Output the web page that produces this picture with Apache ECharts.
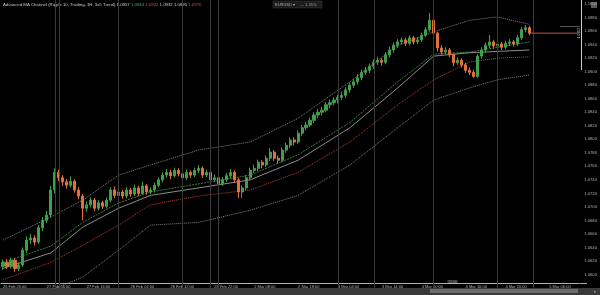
<!DOCTYPE html>
<html><head><meta charset="utf-8">
<script src="https://cdn.jsdelivr.net/npm/echarts/dist/echarts.min.js"></script>
<style>html,body{margin:0;padding:0;background:#000;}#c{width:600px;height:295px;}</style>
</head><body><div id="c"></div>
<script>
// [open, close, low, high]
const candles = [
[1.0612,1.0618,1.0607,1.0622],[1.0618,1.0612,1.0608,1.0623],[1.0612,1.0621,1.0609,1.0625],[1.0621,1.0609,1.0604,1.0624],
[1.0609,1.0614,1.0605,1.0618],[1.0614,1.0636,1.0611,1.0640],[1.0636,1.0651,1.0632,1.0656],[1.0651,1.0654,1.0645,1.0660],
[1.0654,1.0648,1.0643,1.0658],[1.0648,1.0669,1.0645,1.0673],[1.0669,1.0680,1.0664,1.0685],[1.0680,1.0688,1.0676,1.0694],
[1.0688,1.0725,1.0684,1.0731],[1.0725,1.0751,1.0720,1.0757],[1.0751,1.0743,1.0738,1.0755],[1.0743,1.0737,1.0731,1.0747],
[1.0737,1.0732,1.0727,1.0741],[1.0732,1.0738,1.0729,1.0745],[1.0738,1.0725,1.0721,1.0741],[1.0725,1.0716,1.0711,1.0729],
[1.0716,1.0698,1.0680,1.0719],[1.0698,1.0703,1.0693,1.0708],[1.0703,1.0710,1.0699,1.0714],[1.0710,1.0698,1.0694,1.0713],
[1.0698,1.0706,1.0695,1.0710],[1.0706,1.0701,1.0697,1.0709],[1.0701,1.0710,1.0698,1.0714],[1.0710,1.0725,1.0707,1.0729],
[1.0725,1.0717,1.0713,1.0730],[1.0717,1.0722,1.0714,1.0726],[1.0722,1.0716,1.0712,1.0725],[1.0716,1.0725,1.0713,1.0729],
[1.0725,1.0719,1.0715,1.0728],[1.0719,1.0728,1.0716,1.0733],[1.0728,1.0720,1.0716,1.0731],[1.0720,1.0731,1.0718,1.0737],
[1.0731,1.0722,1.0718,1.0734],[1.0722,1.0725,1.0719,1.0729],[1.0725,1.0732,1.0721,1.0736],[1.0732,1.0740,1.0729,1.0744],
[1.0740,1.0747,1.0736,1.0751],[1.0747,1.0751,1.0743,1.0756],[1.0751,1.0746,1.0741,1.0755],[1.0746,1.0754,1.0743,1.0758],
[1.0754,1.0749,1.0745,1.0757],[1.0749,1.0743,1.0739,1.0752],[1.0743,1.0751,1.0740,1.0755],[1.0751,1.0747,1.0743,1.0754],
[1.0747,1.0754,1.0744,1.0758],[1.0754,1.0757,1.0750,1.0762],[1.0757,1.0747,1.0743,1.0760],[1.0747,1.0751,1.0744,1.0755],
[1.0751,1.0740,1.0736,1.0754],[1.0740,1.0743,1.0737,1.0748],[1.0743,1.0734,1.0730,1.0746],[1.0734,1.0740,1.0731,1.0744],
[1.0740,1.0746,1.0737,1.0750],[1.0746,1.0751,1.0742,1.0756],[1.0751,1.0740,1.0736,1.0754],[1.0740,1.0722,1.0713,1.0743],
[1.0722,1.0728,1.0713,1.0732],[1.0728,1.0743,1.0725,1.0747],[1.0743,1.0754,1.0740,1.0758],[1.0754,1.0757,1.0750,1.0762],
[1.0757,1.0766,1.0753,1.0770],[1.0766,1.0762,1.0757,1.0769],[1.0762,1.0772,1.0759,1.0776],[1.0772,1.0781,1.0768,1.0787],
[1.0781,1.0772,1.0768,1.0784],[1.0772,1.0769,1.0764,1.0776],[1.0769,1.0784,1.0766,1.0788],[1.0784,1.0791,1.0780,1.0795],
[1.0791,1.0799,1.0787,1.0803],[1.0799,1.0796,1.0791,1.0803],[1.0796,1.0809,1.0793,1.0813],[1.0809,1.0817,1.0805,1.0821],
[1.0817,1.0821,1.0813,1.0826],[1.0821,1.0828,1.0818,1.0832],[1.0828,1.0836,1.0824,1.0840],[1.0836,1.0840,1.0831,1.0845],
[1.0840,1.0843,1.0835,1.0848],[1.0843,1.0851,1.0840,1.0855],[1.0851,1.0854,1.0846,1.0859],[1.0854,1.0858,1.0850,1.0862],
[1.0858,1.0862,1.0853,1.0866],[1.0862,1.0865,1.0858,1.0870],[1.0865,1.0873,1.0861,1.0877],[1.0873,1.0880,1.0869,1.0884],
[1.0880,1.0885,1.0876,1.0889],[1.0885,1.0891,1.0881,1.0896],[1.0891,1.0899,1.0887,1.0903],[1.0899,1.0902,1.0895,1.0907],
[1.0902,1.0908,1.0898,1.0912],[1.0908,1.0914,1.0904,1.0918],[1.0914,1.0917,1.0910,1.0922],[1.0917,1.0914,1.0909,1.0920],
[1.0914,1.0925,1.0911,1.0929],[1.0925,1.0932,1.0921,1.0937],[1.0932,1.0939,1.0928,1.0943],[1.0939,1.0944,1.0935,1.0948],
[1.0944,1.0947,1.0940,1.0951],[1.0947,1.0942,1.0938,1.0950],[1.0942,1.0950,1.0939,1.0954],[1.0950,1.0944,1.0940,1.0953],
[1.0944,1.0947,1.0941,1.0951],[1.0947,1.0954,1.0944,1.0958],[1.0954,1.0962,1.0951,1.0966],[1.0962,1.0976,1.0959,1.0987],
[1.0976,1.0957,1.0953,1.0979],[1.0957,1.0935,1.0930,1.0959],[1.0935,1.0929,1.0925,1.0939],[1.0929,1.0932,1.0926,1.0936],
[1.0932,1.0925,1.0921,1.0935],[1.0925,1.0913,1.0908,1.0927],[1.0913,1.0917,1.0910,1.0921],[1.0917,1.0910,1.0906,1.0920],
[1.0910,1.0902,1.0898,1.0913],[1.0902,1.0899,1.0895,1.0906],[1.0899,1.0893,1.0891,1.0903],[1.0893,1.0923,1.0891,1.0926],
[1.0923,1.0932,1.0919,1.0936],[1.0932,1.0939,1.0928,1.0943],[1.0939,1.0944,1.0935,1.0954],[1.0944,1.0938,1.0934,1.0947],
[1.0938,1.0941,1.0935,1.0945],[1.0941,1.0936,1.0932,1.0944],[1.0936,1.0942,1.0933,1.0946],[1.0942,1.0944,1.0938,1.0948],
[1.0944,1.0941,1.0937,1.0947],[1.0941,1.0950,1.0938,1.0954],[1.0950,1.0962,1.0947,1.0966],[1.0962,1.0965,1.0958,1.0969],
[1.0965,1.0957,1.0954,1.0968]
];
const categoryCount = 145;
const categories = Array.from({length: categoryCount}, (_, i) => String(i));

// channel lines, read at these candle indices
const lineIdx   = [0, 12, 20, 29, 37, 49, 62, 74, 87, 99, 108, 117, 124, 132];
const upperBand = [1.0651,1.0685,1.0710,1.0747,1.0762,1.0784,1.0796,1.0831,1.0885,1.0939,1.0959,1.0976,1.0981,1.0970];
const greenLine = [1.0618,1.0642,1.0677,1.0706,1.0722,1.0734,1.0747,1.0777,1.0825,1.0885,1.0926,1.0929,1.0936,1.0944];
const whiteLine = [1.0609,1.0632,1.0670,1.0698,1.0717,1.0728,1.0740,1.0769,1.0817,1.0876,1.0923,1.0928,1.0930,1.0932];
const redLine   = [1.0592,1.0618,1.0643,1.0673,1.0703,1.0716,1.0725,1.0751,1.0796,1.0851,1.0888,1.0914,1.0920,1.0922];
const lowerBand = [1.0562,1.0577,1.0596,1.0636,1.0673,1.0677,1.0695,1.0717,1.0762,1.0817,1.0858,1.0876,1.0888,1.0895];

const separatorIdx = [13, 14, 29, 45, 52, 54, 84, 93, 108, 124, 133];
const tickIdx = [0, 11, 21, 32, 42, 53, 63, 74, 84, 95, 105, 116, 126, 137];
const tickLabels = ["26 Feb 20:00","27 Feb 06:00","27 Feb 16:00","28 Feb 02:00","28 Feb 12:00","28 Feb 22:00","2 Mar 08:00",
  "2 Mar 18:00","3 Mar 04:00","3 Mar 14:00","4 Mar 00:00","4 Mar 10:00","4 Mar 20:00","5 Mar 06:00"];
const headerText = "Advanced MA Channel (Ripple 10, Trading, 1H, 3x5 Trend)";
const headerValues = ["1.0957", "1.0944", "1.0922", "1.0932", "1.0895", "1.0970"];
const headerColors = ["#cfcfcf", "#4caf50", "#e0503c", "#cfcfcf", "#cfcfcf", "#e0503c"];

const yMin = 1.0580, yMax = 1.1006, yStep = 0.002;

function pts(vals) { return lineIdx.map((i, k) => [i, vals[k]]); }
function lineSeries(vals, color, type, width, extra) {
  return Object.assign({
    type: 'line', data: pts(vals), symbol: 'none', silent: true, z: 3,
    itemStyle: { color: color },
    lineStyle: { color: color, type: type, width: width }
  }, extra || {});
}

const lastIdx = candles.length - 1;
const lastClose = candles[lastIdx][1];
const sepStyle = { color: '#3a3a3a', type: 'solid', width: 1 };

const chart = echarts.init(document.getElementById('c'), null, { renderer: 'canvas' });
chart.setOption({
  backgroundColor: '#000',
  animation: false,
  grid: { left: 0, right: 20, top: 0, bottom: 7 },
  xAxis: {
    type: 'category', data: categories, boundaryGap: true, offset: -5,
    axisLine: { lineStyle: { color: '#b0b0b0', width: 1 } },
    axisTick: { show: false },
    splitLine: { show: false },
    axisLabel: {
      interval: (idx) => tickIdx.includes(idx),
      formatter: (v, idx) => { const k = tickIdx.indexOf(idx); return k >= 0 ? tickLabels[k] : ''; },
      align: 'left', fontSize: 4, color: '#b5b5b5', margin: 1.5, fontFamily: 'Liberation Sans'
    }
  },
  yAxis: {
    type: 'value', position: 'right', min: yMin, max: yMax, interval: yStep,
    axisLine: { show: false }, axisTick: { show: false }, splitLine: { show: false },
    axisLabel: {
      formatter: (v) => v.toFixed(4), fontSize: 4.2, color: '#b0b0b0', margin: 5,
      showMinLabel: false, showMaxLabel: false, fontFamily: 'Liberation Sans'
    }
  },
  series: [
    {
      type: 'line', data: [], silent: true, z: 1,
      markLine: {
        silent: true, symbol: ['none', 'none'], label: { show: false },
        emphasis: { disabled: true },
        lineStyle: sepStyle,
        data: separatorIdx.map(i => ({ xAxis: i, lineStyle: sepStyle }))
      }
    },
    lineSeries(upperBand, 'rgba(160,160,160,0.8)', 'dotted', 1),
    lineSeries(lowerBand, 'rgba(160,160,160,0.8)', 'dotted', 1),
    lineSeries(redLine, 'rgba(205,70,60,0.9)', 'dotted', 1),
    lineSeries(whiteLine, 'rgba(220,220,220,0.8)', 'solid', 0.8),
    lineSeries(greenLine, 'rgba(90,180,90,0.85)', [2, 1], 0.8),
    {
      type: 'line', silent: true, symbol: 'none', z: 5,
      data: [[lastIdx, lastClose], [categoryCount - 1, lastClose]],
      itemStyle: { color: '#c9503e' },
      lineStyle: { color: '#c9503e', width: 1 }
    },
    {
      type: 'candlestick', data: candles, barWidth: 2.6, z: 4,
      itemStyle: { color: '#3f9f4a', color0: '#e2703c', borderColor: '#3f9f4a', borderColor0: '#e2703c', borderWidth: 1 }
    }
  ]
});

// header rich text
const rich = { t: { fill: '#c8c8c8', fontSize: 4.3, fontFamily: 'Liberation Sans' } };
let txt = '{t|' + headerText + ' }';
headerValues.forEach((v, k) => { rich['v' + k] = { fill: headerColors[k], fontSize: 4.3, fontFamily: 'Liberation Sans' }; txt += '{v' + k + '|' + v + ' }'; });

const priceY = chart.convertToPixel({ yAxisIndex: 0 }, lastClose);

chart.setOption({
  graphic: [
    { type: 'text', left: 3, top: 3, style: { text: txt, rich: rich } },
    { type: 'rect', shape: { x: 273, y: 1, width: 49, height: 7 }, style: { fill: '#1c1c1c', stroke: '#3c3c3c', lineWidth: 0.5 } },
    { type: 'text', x: 275, y: 2.5, style: { text: 'EURUSD ▾', fill: '#b0b0b0', fontSize: 4, fontFamily: 'Liberation Sans' } },
    { type: 'text', x: 300, y: 2.5, style: { text: '— 1.35%', fill: '#9a9a9a', fontSize: 4, fontFamily: 'Liberation Sans' } },
    { type: 'rect', shape: { x: 591, y: 2, width: 6, height: 6 }, style: { fill: '#5a5a5a' } },
    { type: 'line', shape: { x1: 581.5, y1: 0, x2: 581.5, y2: 70 }, style: { stroke: '#cfcfcf', lineWidth: 1 } },
    { type: 'line', shape: { x1: 560, y1: 26.5, x2: 580, y2: 26.5 }, style: { stroke: '#555', lineWidth: 1 } },
    { type: 'text', x: 579, y: priceY, rotation: Math.PI / 2, style: { text: lastClose.toFixed(4), fill: '#d8d8d8', fontSize: 3.5, align: 'center', verticalAlign: 'middle', fontFamily: 'Liberation Sans' } },
    { type: 'line', shape: { x1: 580, y1: 283.5, x2: 587, y2: 283.5 }, style: { stroke: '#b0b0b0', lineWidth: 1 } },
    { type: 'rect', shape: { x: 447, y: 280, width: 11, height: 4 }, style: { fill: '#222' } },
    { type: 'text', x: 448, y: 280.3, style: { text: '12:00', fill: '#aaa', fontSize: 3.5, fontFamily: 'Liberation Sans' } },
    { type: 'rect', shape: { x: 0, y: 288, width: 600, height: 7 }, style: { fill: '#3a3a3a' } },
    { type: 'rect', shape: { x: 430, y: 289, width: 148, height: 4 }, style: { fill: '#6c6c6c' } },
    { type: 'text', x: 594, y: 289, style: { text: '▸', fill: '#888', fontSize: 5 } }
  ]
});
</script></body></html>
